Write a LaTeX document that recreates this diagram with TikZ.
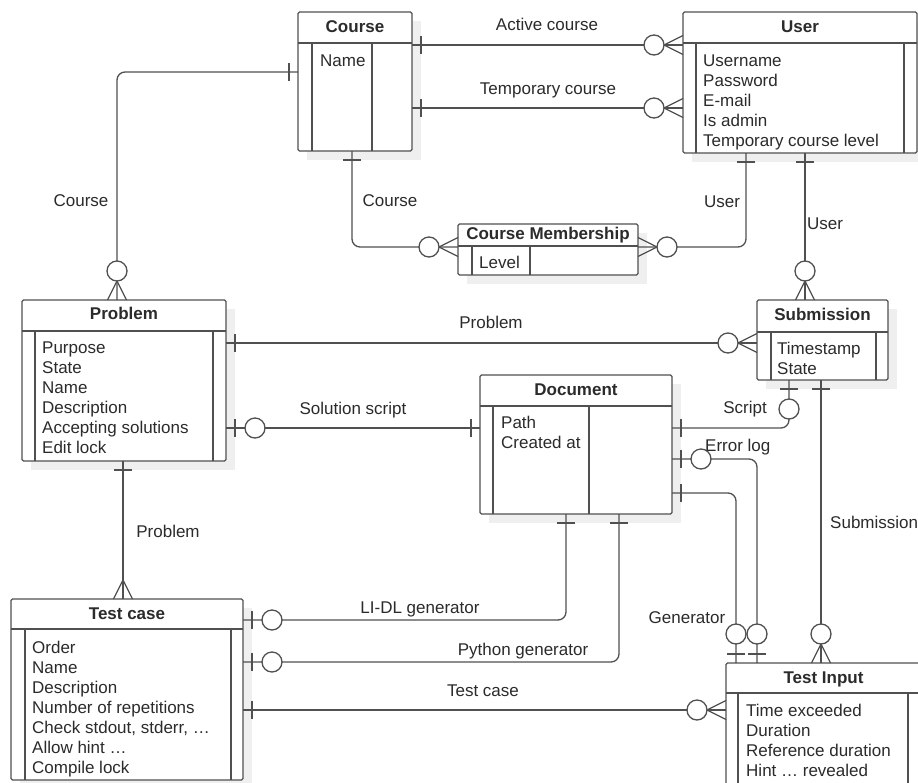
\documentclass[tikz,border=0pt]{standalone}
\usepackage{fontspec}
\setmainfont{Liberation Sans}
\usetikzlibrary{calc}
\definecolor{lc}{HTML}{505050}
\definecolor{tc}{HTML}{2B2B2B}
\definecolor{shd}{HTML}{EFEFEF}
\tikzset{
  conn/.style={draw=lc, line width=1.3pt, rounded corners=8pt},
  entbox/.style={draw=lc, line width=1.3pt, fill=white, rounded corners=1.5pt, inner sep=0pt, outer sep=0pt},
  inline/.style={draw=lc, line width=1.3pt},
  ttl/.style={font=\fontsize{17}{20}\selectfont\bfseries, text=tc, inner sep=0pt, anchor=base},
  attr/.style={font=\fontsize{17}{20}\selectfont, text=tc, inner sep=0pt, anchor=base west},
  lbl/.style={font=\fontsize{17}{20}\selectfont, text=tc, inner sep=0pt, anchor=base},
  endmark/.style={draw=lc, line width=1.3pt},
}
% entity: name, x1, y1, x2, y2, header bottom, inner left, inner right
\newcommand\erentity[8]{%
  \fill[shd] (#2+9,#3+9) rectangle (#4+9,#5+9);
  \node[entbox, anchor=north west, minimum width={(#4-#2)*1pt}, minimum height={(#5-#3)*1pt}] (#1) at (#2,#3) {};
  \draw[inline] (#2,#6) -- (#4,#6) (#7,#6) -- (#7,#5) (#8,#6) -- (#8,#5);
}
% attributes: name, x, first line centre y, list
\newcommand\erattrs[4]{%
  \foreach \t [count=\i from 0] in {#4} {\node[attr] (#1-a\i) at (#2,#3+6+20*\i) {\t};}
}
\newcommand\mkone[2]{\begin{scope}[shift={(#1)},rotate=#2]\draw[endmark] (9,-9) -- (9,9);\end{scope}}
\newcommand\mkzeroone[2]{\begin{scope}[shift={(#1)},rotate=#2]\draw[endmark] (9,-9) -- (9,9);\draw[endmark,fill=white] (29,0) circle (10pt);\end{scope}}
\newcommand\mkzeromany[2]{\begin{scope}[shift={(#1)},rotate=#2]\draw[endmark] (0,-9.5) -- (19,0) -- (0,9.5);\draw[endmark,fill=white] (29,0) circle (10pt);\end{scope}}
\newcommand\mkmany[2]{\begin{scope}[shift={(#1)},rotate=#2]\draw[endmark] (0,-9.5) -- (19,0) -- (0,9.5);\end{scope}}
\begin{document}
\begin{tikzpicture}[x=1pt,y=-1pt]
\useasboundingbox (0,0) rectangle (918,782);
\clip (0,0) rectangle (918,782);
\fill[white] (0,0) rectangle (918,782);

% entities
\erentity{course}{298}{12}{412}{151}{43}{312}{372}
\node[ttl] (course-t) at (355,32) {Course};
\erattrs{course}{320}{60}{Name}

\erentity{user}{683}{12}{917}{153}{43}{696}{904}
\node[ttl] (user-t) at (800,32) {User};
\erattrs{user}{703}{60}{Username,Password,E-mail,Is admin,Temporary course level}

\erentity{cm}{458}{224}{638}{275}{246}{472}{530}
\node[ttl] (cm-t) at (548,239) {Course Membership};
\erattrs{cm}{479}{262}{Level}

\erentity{problem}{22}{300}{226}{461}{331}{35}{213}
\node[ttl] (problem-t) at (124,319) {Problem};
\erattrs{problem}{42}{347}{Purpose,State,Name,Description,Accepting solutions,Edit lock}

\erentity{submission}{757}{300}{888}{380}{332}{771}{876}
\node[ttl] (submission-t) at (822.5,320) {Submission};
\erattrs{submission}{777}{348}{Timestamp,State}

\erentity{document}{480}{375}{672}{514}{406}{493}{589}
\node[ttl] (document-t) at (576,395) {Document};
\erattrs{document}{501}{422}{Path,Created at}

\erentity{testcase}{11}{599}{243}{780}{629}{25}{231}
\node[ttl] (testcase-t) at (127,619) {Test case};
\erattrs{testcase}{32}{647}{Order,Name,Description,Number of repetitions,{Check stdout, stderr, …},Allow hint …,Compile lock}

\erentity{testinput}{726}{663}{921}{792}{693}{738}{908}
\node[ttl] (testinput-t) at (823.5,683) {Test Input};
\erattrs{testinput}{746}{710}{Time exceeded,Duration,Reference duration,Hint … revealed}

% connectors
\draw[conn] (course.east |- 0,45) -- (user.west |- 0,45);
\draw[conn] (course.east |- 0,108) -- (user.west |- 0,108);
\draw[conn] (course.west |- 0,72) -| (problem.north -| 117,0);
\draw[conn] (course.south -| 352,0) |- (cm.west |- 0,247);
\draw[conn] (cm.east |- 0,247) -| (user.south -| 746,0);
\draw[conn] (user.south -| 805,0) -- (submission.north -| 805,0);
\draw[conn] (problem.east |- 0,343) -- (submission.west |- 0,343);
\draw[conn] (problem.east |- 0,428) -- (document.west |- 0,428);
\draw[conn] (submission.south -| 789,0) |- (document.east |- 0,428);
\draw[conn] (document.east |- 0,459) -| (testinput.north -| 757,0);
\draw[conn] (document.east |- 0,493) -| (testinput.north -| 736,0);
\draw[conn] (submission.south -| 821,0) -- (testinput.north -| 821,0);
\draw[conn] (problem.south -| 123,0) -- (testcase.north -| 123,0);
\draw[conn] (document.south -| 566,0) |- (testcase.east |- 0,620);
\draw[conn] (document.south -| 619,0) |- (testcase.east |- 0,662);
\draw[conn] (testcase.east |- 0,710) -- (testinput.west |- 0,710);

% end marks
\mkone{course.east |- 0,45}{0} \mkzeromany{user.west |- 0,45}{180}
\mkone{course.east |- 0,108}{0} \mkzeromany{user.west |- 0,108}{180}
\mkone{course.west |- 0,72}{180} \mkzeromany{problem.north -| 117,0}{90}
\mkone{course.south -| 352,0}{270} \mkzeromany{cm.west |- 0,247}{180}
\mkzeromany{cm.east |- 0,247}{0} \mkone{user.south -| 746,0}{270}
\mkone{user.south -| 805,0}{270} \mkzeromany{submission.north -| 805,0}{90}
\mkone{problem.east |- 0,343}{0} \mkzeromany{submission.west |- 0,343}{180}
\mkzeroone{problem.east |- 0,428}{0} \mkone{document.west |- 0,428}{180}
\mkzeroone{submission.south -| 789,0}{270} \mkone{document.east |- 0,428}{0}
\mkzeroone{document.east |- 0,459}{0} \mkzeroone{testinput.north -| 757,0}{90}
\mkone{document.east |- 0,493}{0} \mkzeroone{testinput.north -| 736,0}{90}
\mkone{submission.south -| 821,0}{270} \mkzeromany{testinput.north -| 821,0}{90}
\mkone{problem.south -| 123,0}{270} \mkmany{testcase.north -| 123,0}{90}
\mkone{document.south -| 566,0}{270} \mkzeroone{testcase.east |- 0,620}{0}
\mkone{document.south -| 619,0}{270} \mkzeroone{testcase.east |- 0,662}{0}
\mkone{testcase.east |- 0,710}{0} \mkzeromany{testinput.west |- 0,710}{180}

% labels
\node[lbl] (l1) at (547,30) {Active course};
\node[lbl] (l2) at (548,94) {Temporary course};
\node[lbl] (l3) at (81,206) {Course};
\node[lbl] (l4) at (390,206) {Course};
\node[lbl] (l5) at (722,207) {User};
\node[lbl, anchor=base west] (l6) at (807,229) {User};
\node[lbl] (l7) at (491,328) {Problem};
\node[lbl] (l8) at (353,414) {Solution script};
\node[lbl] (l9) at (745,413) {Script};
\node[lbl, anchor=base west] (l10) at (705,451) {Error log};
\node[lbl, anchor=base west] (l11) at (830,528) {Submission};
\node[lbl] (l12) at (168,537) {Problem};
\node[lbl] (l13) at (420,613) {LI-DL generator};
\node[lbl] (l14) at (523,655) {Python generator};
\node[lbl] (l15) at (483,696) {Test case};
\node[lbl] (l16) at (687,623) {Generator};
\end{tikzpicture}
\end{document}
